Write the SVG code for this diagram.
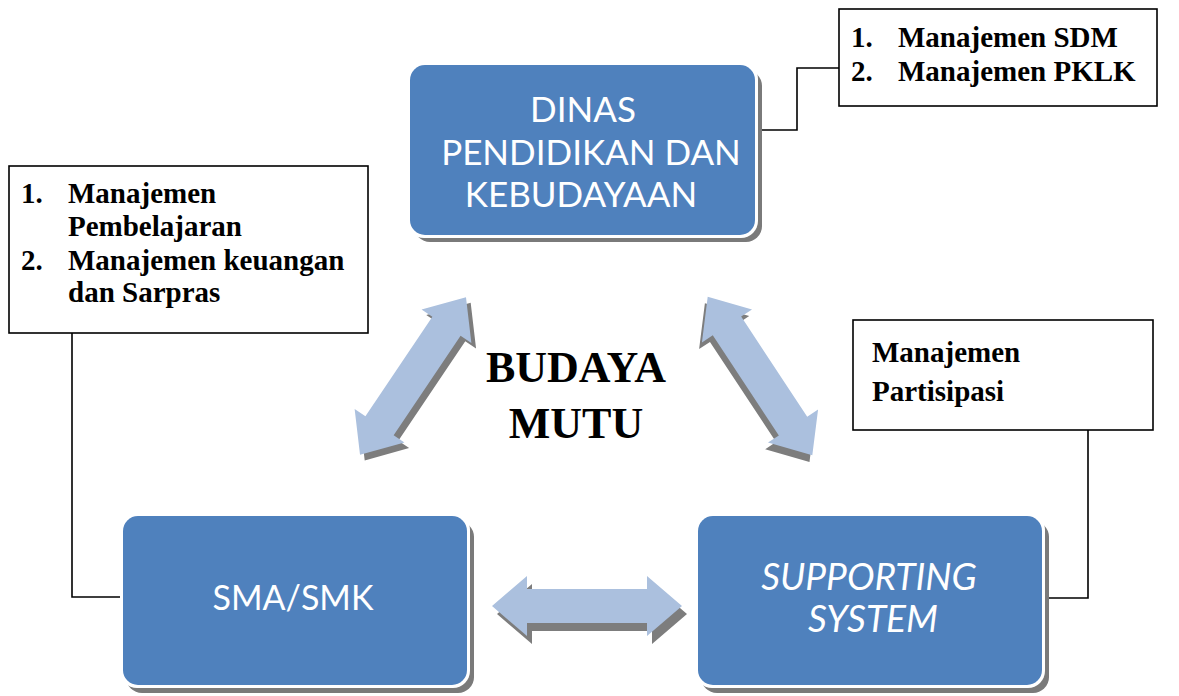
<svg xmlns="http://www.w3.org/2000/svg" width="1179" height="696" viewBox="0 0 1179 696">
<style>
.shadow{fill:#7a7a7a}
.rim{fill:#ffffff}
.node{fill:#4f81bd}
.ntext{font-family:Lato,"Open Sans",sans-serif;font-size:35px;fill:#ffffff;text-anchor:middle}
.box{fill:#ffffff;stroke:#000000;stroke-width:1.6}
.btext{font-family:"Liberation Serif","Times New Roman",serif;font-weight:bold;font-size:29px;fill:#000000}
.big{font-family:"Liberation Serif","Times New Roman",serif;font-weight:bold;font-size:44px;fill:#000000;text-anchor:middle}
.conn{fill:none;stroke:#000000;stroke-width:1.6}
.arrow{fill:#abc0de}
.ashadow{fill:#7d7d7d}
</style>
<defs>
<polygon id="dbl" points="-95,0 -60,-30 -60,-17 60,-17 60,-30 95,0 60,30 60,17 -60,17 -60,30"/>
</defs>

<g id="connectors">
<polyline class="conn" points="757,130 797,130 797,68 839,68"/>
<polyline class="conn" points="72,333 72,597 123,597"/>
<polyline class="conn" points="1088,430 1088,598 1040,598"/>
</g>

<g id="arrows">
<g transform="translate(413,376) rotate(-56.1)">
<use href="#dbl" class="ashadow" transform="translate(-2,7)"/>
<use href="#dbl" class="arrow"/>
</g>
<g transform="translate(760,376) rotate(56.6)">
<use href="#dbl" class="ashadow" transform="translate(4,6)"/>
<use href="#dbl" class="arrow"/>
</g>
<g transform="translate(587,606)">
<use href="#dbl" class="ashadow" transform="translate(5,8)"/>
<use href="#dbl" class="arrow"/>
</g>
</g>

<g id="node-dinas">
<rect class="shadow" x="414" y="70" width="348" height="172" rx="16"/>
<rect class="rim" x="407" y="62" width="351" height="176" rx="17"/>
<rect class="node" x="410" y="65" width="345" height="170" rx="15"/>
<text class="ntext" x="583" y="122">DINAS</text>
<text class="ntext" x="591" y="165">PENDIDIKAN DAN</text>
<text class="ntext" x="581" y="207">KEBUDAYAAN</text>
</g>

<g id="node-sma">
<rect class="shadow" x="126" y="521" width="348" height="172" rx="16"/>
<rect class="rim" x="120" y="513" width="350" height="175" rx="17"/>
<rect class="node" x="123" y="516" width="344" height="169" rx="15"/>
<text class="ntext" x="293" y="610" style="font-size:34px">SMA/SMK</text>
</g>

<g id="node-supporting">
<rect class="shadow" x="701" y="521" width="348" height="172" rx="16"/>
<rect class="rim" x="695" y="513" width="350" height="175" rx="17"/>
<rect class="node" x="698" y="516" width="344" height="169" rx="15"/>
<text class="ntext" x="869" y="590" font-style="italic" style="font-size:37px">SUPPORTING</text>
<text class="ntext" x="873" y="632" font-style="italic" style="font-size:37px">SYSTEM</text>
</g>

<g id="box-dinas">
<rect class="box" x="839" y="9" width="318" height="97"/>
<text class="btext" x="851" y="47">1.</text>
<text class="btext" x="898" y="47">Manajemen SDM</text>
<text class="btext" x="851" y="81">2.</text>
<text class="btext" x="898" y="81">Manajemen PKLK</text>
</g>

<g id="box-sma">
<rect class="box" x="9" y="166" width="359" height="167"/>
<text class="btext" x="21" y="203">1.</text>
<text class="btext" x="68" y="203">Manajemen</text>
<text class="btext" x="68" y="236">Pembelajaran</text>
<text class="btext" x="21" y="270">2.</text>
<text class="btext" x="68" y="270">Manajemen keuangan</text>
<text class="btext" x="68" y="302">dan Sarpras</text>
</g>

<g id="box-supporting">
<rect class="box" x="853" y="320" width="300" height="110"/>
<text class="btext" x="872" y="362">Manajemen</text>
<text class="btext" x="872" y="401">Partisipasi</text>
</g>

<g id="center-label">
<text class="big" x="576" y="382">BUDAYA</text>
<text class="big" x="576" y="438">MUTU</text>
</g>
</svg>
